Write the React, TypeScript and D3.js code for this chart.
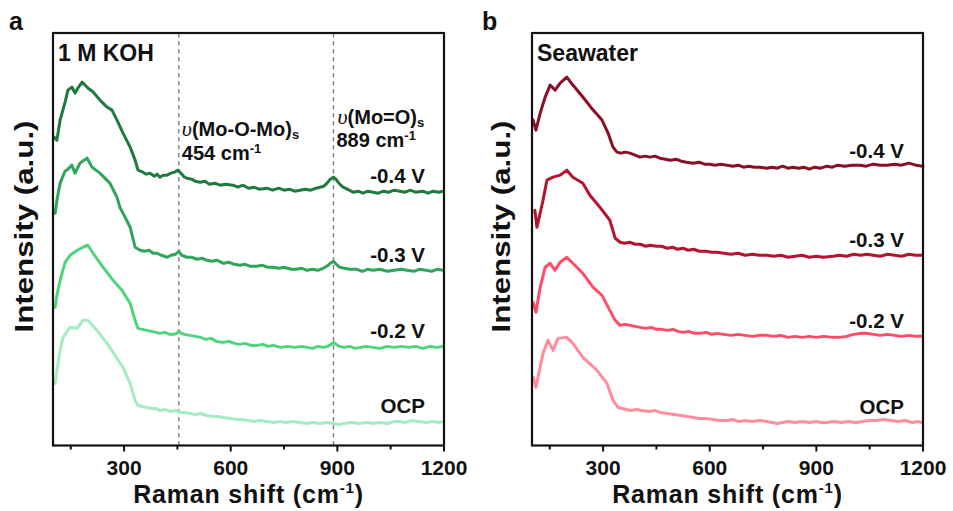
import React from 'react';
import * as d3 from 'd3';

// ---------- data ----------
const xTicks = [300, 600, 900, 1200];
const xMinorTicks = [150, 450, 750, 1050];
const peakPositions = [454, 889];
const seriesLabels = ['-0.4 V', '-0.3 V', '-0.2 V', 'OCP'];

// Panel a: 1 M KOH  [Raman shift (cm-1), intensity (a.u., offset stacked)]
const koh_m04: [number, number][] = [
  [103, 308], [111, 305], [120, 325], [134, 343], [142, 355], [153, 358], [162, 352], [170, 357],
  [182, 363], [190, 360], [198, 357], [213, 353], [232, 345], [252, 338], [266, 335], [280, 325],
  [297, 312], [317, 298], [331, 285], [339, 275], [353, 273], [362, 271], [373, 272], [385, 269],
  [393, 271], [401, 268], [410, 270], [421, 270], [432, 272], [442, 273], [452, 275], [460, 272],
  [470, 268], [477, 267], [490, 266], [500, 264], [514, 263], [528, 264], [540, 261], [555, 262],
  [570, 260], [585, 261], [606, 260], [620, 258], [635, 260], [650, 257], [665, 258], [680, 256],
  [702, 257], [718, 255], [735, 257], [750, 255], [765, 256], [780, 254], [795, 255], [810, 256],
  [825, 255], [840, 257], [851, 258], [862, 259], [871, 262], [880, 266], [889, 268], [896, 266],
  [902, 263], [910, 260], [916, 258], [928, 256], [944, 253], [958, 254], [972, 252], [986, 254],
  [1000, 253], [1015, 252], [1030, 254], [1045, 253], [1060, 255], [1076, 254], [1090, 253],
  [1105, 255], [1120, 253], [1140, 254], [1155, 252], [1170, 254], [1185, 253], [1197, 254],
];
const koh_m03: [number, number][] = [
  [106, 232], [111, 245], [120, 262], [134, 274], [142, 276], [153, 280], [162, 272], [176, 282],
  [187, 285], [196, 287], [210, 278], [232, 272], [260, 262], [280, 248], [288, 238], [300, 230],
  [317, 218], [331, 198], [345, 195], [357, 194], [370, 195], [382, 192], [393, 192], [405, 190],
  [421, 188], [432, 190], [445, 191], [454, 194], [462, 190], [477, 188], [490, 188], [505, 186],
  [520, 187], [533, 185], [548, 184], [562, 185], [580, 182], [595, 183], [610, 181], [626, 180],
  [640, 181], [655, 179], [673, 179], [690, 180], [705, 178], [719, 178], [735, 177], [750, 178],
  [770, 176], [785, 176], [800, 177], [815, 175], [830, 176], [845, 175], [860, 177], [870, 179],
  [880, 182], [889, 184], [897, 181], [907, 178], [920, 177], [935, 176], [955, 176], [970, 174],
  [985, 176], [1000, 175], [1020, 176], [1040, 174], [1060, 175], [1080, 176], [1096, 175],
  [1115, 174], [1130, 176], [1150, 175], [1165, 174], [1180, 176], [1197, 175],
];
const koh_m02: [number, number][] = [
  [106, 138], [111, 150], [120, 165], [134, 183], [148, 190], [168, 195], [184, 198], [198, 200],
  [213, 192], [241, 178], [269, 165], [294, 155], [317, 142], [331, 125], [339, 117], [352, 116],
  [364, 115], [377, 114], [390, 113], [401, 112], [415, 113], [428, 111], [440, 111], [448, 112],
  [454, 114], [462, 112], [470, 111], [485, 110], [500, 109], [515, 108], [530, 106], [545, 107],
  [560, 104], [578, 103], [595, 104], [610, 102], [625, 101], [640, 102], [657, 100], [674, 100],
  [690, 101], [705, 99], [720, 100], [740, 98], [760, 99], [780, 98], [800, 99], [815, 98],
  [830, 97], [845, 99], [860, 98], [872, 99], [882, 101], [889, 103], [897, 101], [905, 99],
  [920, 98], [935, 99], [950, 97], [965, 98], [980, 99], [1000, 98], [1020, 97], [1040, 99],
  [1060, 98], [1080, 99], [1100, 98], [1120, 99], [1140, 97], [1160, 99], [1180, 98], [1197, 99],
];
const koh_ocp: [number, number][] = [
  [106, 62], [111, 75], [120, 95], [128, 108], [148, 118], [168, 117], [184, 125], [198, 125],
  [224, 115], [252, 102], [280, 87], [297, 78], [317, 62], [331, 45], [339, 40], [350, 39],
  [364, 38], [378, 37], [390, 37], [401, 35], [415, 36], [430, 34], [445, 35], [457, 33],
  [470, 33], [485, 32], [500, 31], [515, 32], [533, 30], [550, 29], [565, 29], [580, 28],
  [598, 27], [615, 26], [630, 26], [650, 25], [665, 24], [680, 25], [702, 24], [720, 23],
  [740, 24], [755, 23], [775, 24], [795, 23], [815, 22], [830, 23], [850, 22], [870, 23],
  [888, 22], [905, 21], [920, 22], [940, 23], [960, 22], [983, 23], [1000, 22], [1020, 23],
  [1040, 22], [1060, 24], [1076, 24], [1090, 23], [1110, 25], [1130, 24], [1150, 23],
  [1170, 24], [1185, 23], [1197, 24],
];

// Panel b: Seawater
const sea_m04: [number, number][] = [
  [103, 325], [111, 315], [123, 332], [137, 348], [151, 360], [165, 355], [179, 362], [198, 368],
  [215, 360], [243, 348], [272, 335], [297, 325], [314, 312], [328, 298], [339, 293], [350, 292],
  [362, 293], [376, 292], [390, 290], [404, 288], [418, 289], [432, 288], [446, 289], [460, 287],
  [475, 286], [490, 285], [505, 286], [520, 284], [535, 283], [553, 282], [570, 283], [585, 281],
  [600, 281], [615, 280], [630, 281], [649, 280], [665, 279], [680, 280], [695, 278], [710, 279],
  [725, 278], [741, 278], [760, 277], [775, 278], [790, 277], [805, 279], [820, 277], [834, 278],
  [850, 277], [865, 278], [880, 276], [895, 278], [912, 277], [930, 279], [945, 278], [960, 280],
  [980, 279], [1000, 280], [1023, 280], [1040, 279], [1060, 281], [1080, 280], [1100, 280],
  [1120, 281], [1140, 280], [1160, 282], [1180, 280], [1200, 279],
];
const sea_m03: [number, number][] = [
  [108, 235], [114, 218], [131, 245], [142, 265], [159, 268], [179, 270], [198, 275], [215, 268],
  [243, 262], [263, 250], [291, 238], [319, 225], [334, 207], [348, 203], [360, 202], [375, 203],
  [390, 201], [405, 201], [420, 199], [432, 200], [450, 199], [465, 199], [480, 197], [495, 198],
  [510, 196], [525, 197], [540, 195], [555, 196], [570, 194], [590, 194], [605, 193], [620, 193],
  [640, 192], [660, 191], [680, 192], [700, 190], [720, 191], [740, 190], [761, 190], [780, 189],
  [800, 190], [820, 188], [840, 189], [860, 190], [880, 188], [900, 189], [920, 188], [947, 189],
  [965, 190], [985, 189], [1005, 191], [1025, 190], [1042, 191], [1060, 190], [1080, 189],
  [1100, 191], [1120, 190], [1140, 189], [1160, 191], [1180, 190], [1197, 190],
];
const sea_m02: [number, number][] = [
  [103, 143], [111, 133], [123, 158], [137, 178], [151, 182], [165, 175], [179, 183], [198, 188],
  [215, 182], [243, 172], [272, 158], [297, 150], [319, 135], [334, 125], [348, 120], [362, 121],
  [376, 120], [390, 119], [404, 118], [420, 117], [435, 118], [450, 116], [465, 116], [480, 115],
  [497, 116], [510, 114], [525, 113], [540, 114], [557, 112], [573, 112], [590, 113], [605, 111],
  [620, 112], [640, 111], [660, 110], [680, 111], [700, 110], [720, 109], [740, 110], [761, 110],
  [780, 109], [800, 110], [820, 108], [840, 109], [860, 108], [880, 109], [900, 108], [920, 109],
  [947, 108], [965, 108], [985, 109], [1005, 111], [1025, 112], [1042, 112], [1060, 111],
  [1080, 110], [1100, 111], [1120, 110], [1140, 109], [1160, 110], [1180, 109], [1197, 109],
];
const sea_ocp: [number, number][] = [
  [103, 68], [111, 58], [131, 92], [145, 105], [159, 95], [173, 107], [198, 108], [215, 102],
  [243, 88], [283, 75], [311, 62], [328, 45], [342, 38], [355, 37], [376, 35], [395, 36],
  [410, 35], [430, 34], [445, 35], [460, 33], [480, 32], [500, 31], [520, 30], [537, 29],
  [553, 28], [570, 27], [590, 27], [610, 26], [630, 25], [649, 25], [665, 26], [680, 24],
  [700, 25], [720, 24], [741, 25], [760, 24], [775, 23], [790, 22], [805, 23], [820, 24],
  [840, 23], [860, 24], [880, 23], [900, 24], [915, 23], [930, 23], [950, 24], [970, 23],
  [990, 24], [1010, 23], [1030, 24], [1050, 25], [1071, 25], [1090, 26], [1110, 25], [1130, 24],
  [1150, 25], [1170, 23], [1185, 24], [1197, 23],
];

const kohColors = ['#1f7a3d', '#2ea55a', '#4fd47e', '#a5ebc3'];
const seaColors = ['#8a0f24', '#b5132f', '#ff4c67', '#ff8d9d'];

// ---------- layout ----------
const W = 953;
const H = 511;
const top = 33;
const bottom = 445.5;
const FONT = "'Liberation Sans', Arial, sans-serif";

const yScale = d3.scaleLinear().domain([0, 412]).range([bottom, top]);

interface PanelProps {
  left: number;
  right: number;
  series: [number, number][][];
  colors: string[];
  title: string;
  letter: string;
  letterX: number;
  ylabelX: number;
  peaks: boolean;
}

function Panel({ left, right, series, colors, title, letter, letterX, ylabelX, peaks }: PanelProps) {
  const x = d3.scaleLinear().domain([100, 1200]).range([left, right]);
  const line = d3
    .line<[number, number]>()
    .x((d) => x(d[0]))
    .y((d) => yScale(d[1]));
  const midX = (left + right) / 2;
  return (
    <g>
      {peaks &&
        peakPositions.map((p) => (
          <line
            key={p}
            x1={x(p)}
            x2={x(p)}
            y1={top}
            y2={bottom}
            stroke="#808080"
            strokeWidth={1.4}
            strokeDasharray="4.5,3.5"
          />
        ))}
      {series.map((s, i) => (
        <path
          key={i}
          d={line(s) || ''}
          fill="none"
          stroke={colors[i]}
          strokeWidth={3}
          strokeLinejoin="round"
          strokeLinecap="round"
        />
      ))}
      {series.map((s, i) => (
        <text
          key={'l' + i}
          x={right - 19}
          y={yScale(s[s.length - 1][1]) - 8}
          textAnchor="end"
          fontFamily={FONT}
          fontWeight="bold"
          fontSize={20.5}
          fill="#111"
        >
          {seriesLabels[i]}
        </text>
      ))}
      <rect x={left} y={top} width={right - left} height={bottom - top} fill="none" stroke="#111" strokeWidth={2.2} />
      {xTicks.map((t) => (
        <g key={t}>
          <line x1={x(t)} x2={x(t)} y1={bottom} y2={bottom + 6} stroke="#111" strokeWidth={2} />
          <text x={x(t)} y={475} textAnchor="middle" fontFamily={FONT} fontWeight="bold" fontSize={21} fill="#111">
            {t}
          </text>
        </g>
      ))}
      {xMinorTicks.map((t) => (
        <line key={t} x1={x(t)} x2={x(t)} y1={bottom} y2={bottom + 4} stroke="#111" strokeWidth={2} />
      ))}
      <text
        x={midX}
        y={503}
        textAnchor="middle"
        fontFamily={FONT}
        fontWeight="bold"
        fontSize={25}
        letterSpacing={0.8}
        fill="#111"
      >
        Raman shift (cm
        <tspan fontSize={15} dy={-10}>-1</tspan>
        <tspan dy={10}>)</tspan>
      </text>
      <text
        transform={`translate(${ylabelX},226.5) rotate(-90)`}
        textAnchor="middle"
        fontFamily={FONT}
        fontWeight="bold"
        fontSize={25}
        textLength={212}
        lengthAdjust="spacingAndGlyphs"
        fill="#111"
      >
        Intensity (a.u.)
      </text>
      <text x={left + 5} y={61} fontFamily={FONT} fontWeight="bold" fontSize={23} fill="#111">
        {title}
      </text>
      <text x={letterX} y={30} fontFamily={FONT} fontWeight="bold" fontSize={25} fill="#111">
        {letter}
      </text>
    </g>
  );
}

export default function App() {
  const xa = d3.scaleLinear().domain([100, 1200]).range([53, 444]);
  return (
    <svg width={W} height={H} style={{ position: 'absolute', left: 0, top: 0, background: '#fff' }}>
      <rect width={W} height={H} fill="#fff" />
      <Panel
        left={53}
        right={444}
        series={[koh_m04, koh_m03, koh_m02, koh_ocp]}
        colors={kohColors}
        title="1 M KOH"
        letter="a"
        letterX={9}
        ylabelX={33}
        peaks={true}
      />
      <Panel
        left={532}
        right={923}
        series={[sea_m04, sea_m03, sea_m02, sea_ocp]}
        colors={seaColors}
        title="Seawater"
        letter="b"
        letterX={482}
        ylabelX={510}
        peaks={false}
      />
      {/* peak annotations */}
      <text x={xa(454) + 3} y={136} fontFamily={FONT} fontWeight="bold" fontSize={20} fill="#111">
        <tspan fontFamily="'Liberation Serif', serif" fontStyle="italic" fontWeight="normal" fontSize={22}>υ</tspan>
        (Mo-O-Mo)
        <tspan fontSize={13} dy={3}>s</tspan>
      </text>
      <text x={xa(454) + 3} y={160} fontFamily={FONT} fontWeight="bold" fontSize={20} fill="#111">
        454 cm<tspan fontSize={13} dy={-7}>-1</tspan>
      </text>
      <text x={xa(889) + 4} y={124} fontFamily={FONT} fontWeight="bold" fontSize={20} fill="#111">
        <tspan fontFamily="'Liberation Serif', serif" fontStyle="italic" fontWeight="normal" fontSize={22}>υ</tspan>
        (Mo=O)
        <tspan fontSize={13} dy={3}>s</tspan>
      </text>
      <text x={xa(889) + 3} y={147} fontFamily={FONT} fontWeight="bold" fontSize={20} fill="#111">
        889 cm<tspan fontSize={13} dy={-7}>-1</tspan>
      </text>
    </svg>
  );
}
